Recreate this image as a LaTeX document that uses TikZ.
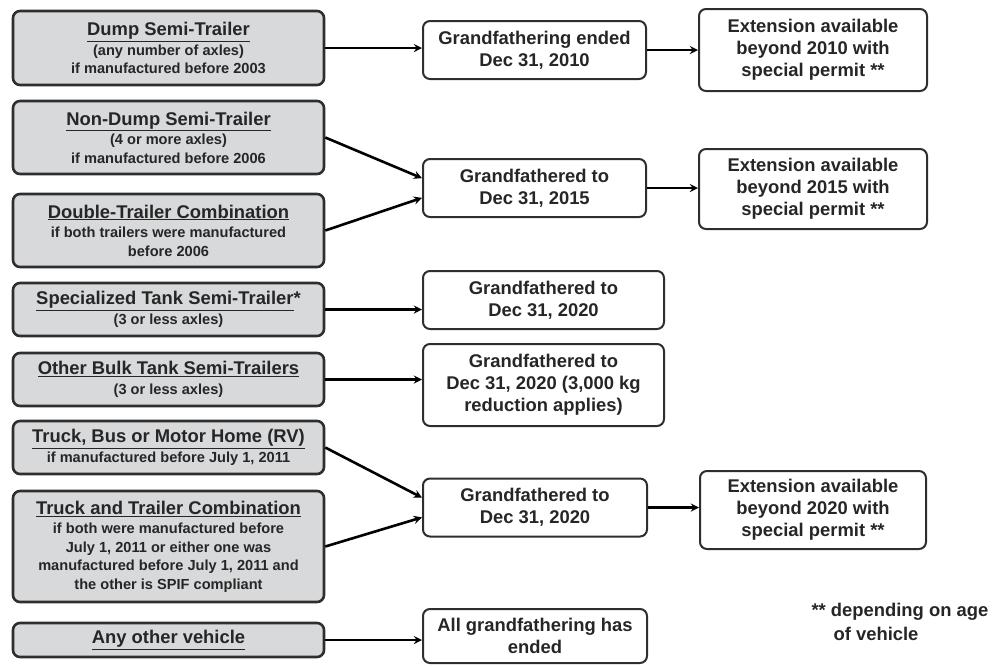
\documentclass[tikz,border=0pt]{standalone}
\usepackage{fontspec}
\setmainfont{Liberation Sans}
\definecolor{boxgray}{HTML}{D8D9DB}
\definecolor{edgegray}{HTML}{2E2E2E}
\newcommand{\vtitle}[1]{\fontsize{18.4}{21}\selectfont\underline{#1}}
\newcommand{\vsub}{\fontsize{14.6}{18.5}\selectfont}
\tikzset{
    vehicle/.style={draw=edgegray, line width=2.6pt, rounded corners=7pt, fill=boxgray,
        minimum width=311pt, align=center, text=black!85, font=\bfseries\fontsize{14.6}{18.5}\selectfont},
    status/.style={draw=edgegray, line width=2pt, rounded corners=7pt, fill=white,
        align=center, text=black!85, font=\bfseries\fontsize{18.4}{22}\selectfont},
    arr/.style={line width=2.6pt, -stealth},
}

\begin{document}
\begin{tikzpicture}[x=1pt, y=-1pt]
        \useasboundingbox (0, 0) rectangle (997, 665);

        % vehicle types
        \node[vehicle, minimum height=74pt] (n1) at (168.5, 48) {\vtitle{Dump Semi-Trailer}\\[1pt] \vsub (any number of axles)\\ \vsub if manufactured before 2003};
        \node[vehicle, minimum height=73pt] (n2) at (168.5, 137.5) {\vtitle{Non-Dump Semi-Trailer}\\[1pt] \vsub (4 or more axles)\\ \vsub if manufactured before 2006};
        \node[vehicle, minimum height=73pt] (n3) at (168.5, 230.5) {\vtitle{Double-Trailer Combination}\\[1pt] \vsub if both trailers were manufactured\\ \vsub before 2006};
        \node[vehicle, minimum height=53pt] (n4) at (168.5, 309.5) {\vtitle{Specialized Tank Semi-Trailer}*\\[1pt] \vsub (3 or less axles)};
        \node[vehicle, minimum height=53pt] (n5) at (168.5, 379.5) {\vtitle{Other Bulk Tank Semi-Trailers}\\[1pt] \vsub (3 or less axles)};
        \node[vehicle, minimum height=53pt] (n6) at (168.5, 447.5) {\vtitle{Truck, Bus or Motor Home (RV)}\\[1pt] \vsub if manufactured before July 1, 2011};
        \node[vehicle, minimum height=111pt] (n7) at (168.5, 546.5) {\vtitle{Truck and Trailer Combination}\\[1pt] \vsub if both were manufactured before\\ \vsub July 1, 2011 or either one was\\ \vsub manufactured before July 1, 2011 and\\ \vsub the other is SPIF compliant};
        \node[vehicle, minimum height=34pt] (n8) at (168.5, 640) {\vtitle{Any other vehicle}};

        % grandfathering
        \node[status, minimum width=223pt, minimum height=58pt] (m1) at (534.5, 50) {Grandfathering ended\\ Dec 31, 2010};
        \node[status, minimum width=223pt, minimum height=58pt] (m2) at (534.5, 188) {Grandfathered to\\ Dec 31, 2015};
        \node[status, minimum width=241pt, minimum height=58pt] (m3) at (543.5, 300) {Grandfathered to\\ Dec 31, 2020};
        \node[status, minimum width=241pt, minimum height=82pt] (m4) at (543.5, 385) {Grandfathered to\\ Dec 31, 2020 (3,000 kg\\ reduction applies)};
        \node[status, minimum width=224pt, minimum height=58pt] (m5) at (535, 507.5) {Grandfathered to\\ Dec 31, 2020};
        \node[status, minimum width=224pt, minimum height=54pt] (m6) at (535, 636) {All grandfathering has\\ ended};

        % extensions
        \node[status, minimum width=228pt, minimum height=82pt] (r1) at (813, 50) {Extension available\\ beyond 2010 with\\ special permit **};
        \node[status, minimum width=228pt, minimum height=80pt] (r2) at (813, 189) {Extension available\\ beyond 2015 with\\ special permit **};
        \node[status, minimum width=226pt, minimum height=78pt] (r3) at (813, 510) {Extension available\\ beyond 2020 with\\ special permit **};

        \node[anchor=north west, align=left, text=black!85, font=\bfseries\fontsize{18.4}{24}\selectfont] (note) at (808, 600) {** depending on age\\ \hspace*{1.2em}of vehicle};

        \draw[arr] (n1.east) -- (n1.east -| m1.west);
        \draw[arr] (m1.east) -- (r1.west);
        \draw[arr] (n2.east) -- (m2.175);
        \draw[arr] (n3.east) -- (m2.185);
        \draw[arr] (m2.east) -- (m2.east -| r2.west);
        \draw[arr] (n4.east) -- (n4.east -| m3.west);
        \draw[arr] (n5.east) -- (n5.east -| m4.west);
        \draw[arr] (n6.east) -- (m5.175);
        \draw[arr] (n7.east) -- (m5.185);
        \draw[arr] (m5.east) -- (m5.east -| r3.west);
        \draw[arr] (n8.east) -- (n8.east -| m6.west);
    \end{tikzpicture}
\end{document}
